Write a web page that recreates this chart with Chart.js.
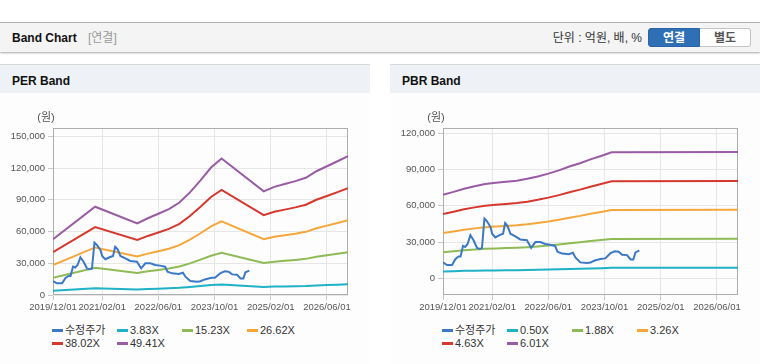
<!DOCTYPE html>
<html lang="ko">
<head>
<meta charset="utf-8">
<script src="https://cdn.jsdelivr.net/npm/chart.js"></script>
<style>
  html,body{margin:0;padding:0;background:#fff;}
  body{width:760px;height:364px;position:relative;overflow:hidden;
       font-family:"Liberation Sans",Arial,"Noto Sans CJK KR",sans-serif;color:#222;}
  .topline{position:absolute;left:0;top:22px;width:760px;height:1px;background:#b4b4b4;}
  .hbar{position:absolute;left:0;top:23px;width:760px;height:29px;background:#f4f4f4;
        box-shadow:0 1px 2px rgba(0,0,0,.35);}
  .htitle{position:absolute;left:12px;top:31px;font-size:12px;font-weight:bold;color:#111;line-height:14px;}
  .hsub{position:absolute;left:88px;top:31px;font-size:12px;color:#999;line-height:14px;}
  .unit{position:absolute;right:118px;top:31px;font-size:12px;color:#333;line-height:14px;}
  .btn{position:absolute;top:28px;height:19px;line-height:19px;font-size:12px;font-weight:bold;text-align:center;box-sizing:border-box;}
  .b1{left:648px;width:52px;background:#2f6fb6;color:#fff;border:1px solid #2a64a6;border-radius:3px 0 0 3px;}
  .b2{left:700px;width:51px;background:#fff;color:#555;border:1px solid #c4c4c4;border-left:none;border-radius:0 3px 3px 0;}
  .panel{position:absolute;top:64px;width:370px;height:299px;border-top:1px solid #d8d8d8;border-bottom:1px solid #cfcfcf;background:#fdfdfd;}
  .ptitle{position:absolute;left:0;top:0;width:370px;height:28px;background:#eef2f7;}
  .ptitle span{position:absolute;left:12px;top:9px;font-size:12px;font-weight:bold;color:#111;line-height:14px;}
  .cv{position:absolute;left:0;top:27px;}
  .legend{position:absolute;left:52px;top:259px;display:grid;grid-template-columns:repeat(4,65px);grid-auto-rows:13.4px;
          font-size:11px;color:#333;}
  .legend div{white-space:nowrap;line-height:13.4px;}
  .legend i{display:inline-block;width:11px;height:3px;vertical-align:middle;margin-right:2px;position:relative;top:-1px;}
</style>
</head>
<body>
<div class="topline"></div>
<div class="hbar"></div>
<div class="htitle">Band Chart</div>
<div class="hsub">[연결]</div>
<div class="unit">단위 : 억원, 배, %</div>
<div class="btn b1">연결</div>
<div class="btn b2">별도</div>

<div class="panel" style="left:0">
  <div class="ptitle"><span>PER Band</span></div>
  <canvas class="cv" id="per" width="370" height="230"></canvas>
  <div class="legend" id="perLegend"></div>
</div>
<div class="panel" style="left:390px">
  <div class="ptitle"><span>PBR Band</span></div>
  <canvas class="cv" id="pbr" width="370" height="230"></canvas>
  <div class="legend" id="pbrLegend"></div>
</div>

<script>
// ---------- data ----------
const xTickLabels = ['2019/12/01','2021/02/01','2022/06/01','2023/10/01','2025/02/01','2026/06/01'];
const xRange = ['2019/12/01','2026/12/01'];

const priceLabel = '수정주가';
const priceDates = ['2019/12/01','2020/01/04','2020/02/19','2020/03/16','2020/04/13','2020/05/01','2020/05/22','2020/06/10','2020/07/01','2020/07/25','2020/08/22','2020/09/22','2020/10/13','2020/11/04','2020/11/25','2020/12/16','2021/01/16','2021/02/01','2021/02/28','2021/04/04','2021/05/04','2021/05/22','2021/06/13','2021/07/07','2021/08/19','2021/10/01','2021/11/28','2022/01/04','2022/02/10','2022/03/22','2022/05/04','2022/06/16','2022/07/28','2022/08/19','2022/09/28','2022/11/25','2023/01/01','2023/01/22','2023/03/04','2023/05/01','2023/06/01','2023/07/01','2023/08/25','2023/10/07','2023/11/22','2023/12/28','2024/02/01','2024/03/01','2024/04/13','2024/05/13','2024/06/07','2024/06/25','2024/07/28'];
const priceValues = [13200,11000,11000,15800,18000,18000,26800,26000,28400,35700,31500,25200,24300,25000,49500,47300,42600,36900,33800,35700,36900,45700,43200,36900,34700,32200,31500,25200,30000,30000,28400,27800,26800,22100,20500,19900,21100,17300,13200,12600,13000,14500,16000,16500,20800,22400,22000,19500,19200,15600,15600,21500,23000];

// PER band
const perBandDates = ['2019/12','2020/12','2021/12','2022/03','2022/06','2022/09','2022/12','2023/03','2023/06','2023/09','2023/12','2024/12','2025/03','2025/06','2025/09','2025/12','2026/03','2026/06','2026/09','2026/12'];
const perLabels = ['3.83X','15.23X','26.62X','38.02X','49.41X'];
const per383  = [4090,6470,5250,5630,5960,6300,6780,7530,8410,9350,10020,7600,7930,8140,8350,8600,9080,9440,9810,10180];
const per1523 = [16250,25740,20870,22390,23680,25050,26960,29930,33430,37160,39830,30230,31530,32360,33200,34190,36100,37540,39000,40470];
const per2662 = [28400,44990,36470,39130,41390,43790,47120,52310,58430,64950,69610,52840,55100,56570,58030,59760,63090,65620,68170,70730];
const per3802 = [40570,64250,52090,55890,59120,62540,67300,74710,83450,92770,99420,75470,78700,80790,82880,85360,90110,93720,97370,101020];
const per4941 = [52720,83500,67690,72630,76830,81280,87460,97090,108460,120560,129210,98080,102280,105000,107710,110930,117100,121800,126540,131280];
const perYTicks = [0,30000,60000,90000,120000,150000];
const perYRange = [0,158000];

// PBR band
const pbrBandDates = ['2019/12','2020/03','2020/06','2020/09','2020/12','2021/03','2021/06','2021/09','2021/12','2022/03','2022/06','2022/09','2022/12','2023/03','2023/06','2023/09','2023/12','2026/12'];
const pbrLabels = ['0.50X','1.88X','3.26X','4.63X','6.01X'];
const pbr050 = [5750,5950,6165,6340,6490,6575,6650,6725,6850,7015,7210,7435,7695,7925,8190,8425,8675,8695];
const pbr188 = [21620,22370,23180,23840,24400,24720,25000,25290,25760,26380,27110,27960,28930,29800,30790,31680,32620,32690];
const pbr326 = [37490,38790,40200,41340,42320,42870,43360,43850,44660,45740,47010,48480,50170,51670,53400,54930,56560,56690];
const pbr463 = [53250,55100,57090,58710,60100,60890,61580,62270,63430,64960,66770,68850,71260,73390,75840,78020,80330,80520];
const pbr601 = [69120,71520,74100,76210,78010,79030,79930,80840,82340,84320,86660,89370,92490,95260,98440,101270,104270,104510];
const pbrYTicks = [0,30000,60000,90000,120000];
const pbrYRange = [-13800,124400];

// ---------- styles ----------
const colors = ['#3b79c6','#1fb1c6','#8fba55','#f5a73b','#d6382e','#985ba4'];

function toMonth(s){
  const p = s.split('/').map(Number);
  return (p[0]-2019)*12 + (p[1]-12) + ((p[2]||1)-1)/30;
}
const pts = (dates, vals) => dates.map((d,i)=>({x:toMonth(d), y:vals[i]}));

Chart.defaults.font.family = '"Liberation Sans",Arial,"Noto Sans CJK KR",sans-serif';

const framePlugin = {
  id:'frame',
  beforeDatasetsDraw(chart){
    const {ctx, chartArea:a} = chart;
    ctx.save();
    ctx.strokeStyle = '#adadad';
    ctx.lineWidth = 1;
    ctx.strokeRect(Math.round(a.left)+0.5, Math.round(a.top)+0.5, Math.round(a.right-a.left)-1, Math.round(a.bottom-a.top)-1);
    ctx.fillStyle = '#555';
    ctx.font = '11px "Liberation Sans",Arial,"Noto Sans CJK KR",sans-serif';
    ctx.textAlign = 'center';
    ctx.textBaseline = 'middle';
    ctx.fillText('(원)', 46, a.top - 10);
    ctx.restore();
  }
};

function makeChart(id, legendId, bandDates, bands, bandLabels, yTicks, yRange){
  const datasets = [{label:priceLabel, data:pts(priceDates, priceValues)}]
    .concat(bands.map((b,i)=>({label:bandLabels[i], data:pts(bandDates, b)})))
    .map((d,i)=>Object.assign(d,{borderColor:colors[i], backgroundColor:colors[i], borderWidth:2, pointRadius:0, tension:0, fill:false}));
  const xt = xTickLabels.map(toMonth);
  const chart = new Chart(document.getElementById(id), {
    type:'line',
    data:{datasets},
    plugins:[framePlugin],
    options:{
      responsive:false, animation:false, devicePixelRatio:1,
      layout:{padding:{top:36,right:22,left:0,bottom:0}},
      plugins:{legend:{display:false}, tooltip:{enabled:false}},
      scales:{
        x:{type:'linear', min:toMonth(xRange[0]), max:toMonth(xRange[1]),
           afterBuildTicks:s=>{s.ticks = xt.map(v=>({value:v}));},
           afterFit:s=>{s.height = 27;},
           border:{display:false},
           grid:{color:'#e6e6e6', tickLength:5, tickColor:'#c8c8c8'},
           ticks:{autoSkip:false, maxRotation:0, padding:2, color:'#555', font:{size:9.5},
                  callback:(v)=>{const i = xt.indexOf(v); return i>=0 ? xTickLabels[i] : '';}}},
        y:{min:yRange[0], max:yRange[1],
           afterBuildTicks:s=>{s.ticks = yTicks.map(v=>({value:v}));},
           afterFit:s=>{s.width = 53;},
           border:{display:false},
           grid:{color:'#e6e6e6', tickLength:5, tickColor:'#c8c8c8'},
           ticks:{padding:3, color:'#555', font:{size:9.5},
                  callback:v=>v.toLocaleString('en-US')}}
      }
    }
  });
  const lg = document.getElementById(legendId);
  chart.data.datasets.forEach(d=>{
    const el = document.createElement('div');
    el.innerHTML = '<i style="background:'+d.borderColor+'"></i>'+d.label;
    lg.appendChild(el);
  });
  return chart;
}

makeChart('per','perLegend', perBandDates, [per383,per1523,per2662,per3802,per4941], perLabels, perYTicks, perYRange);
makeChart('pbr','pbrLegend', pbrBandDates, [pbr050,pbr188,pbr326,pbr463,pbr601], pbrLabels, pbrYTicks, pbrYRange);
</script>
</body>
</html>
